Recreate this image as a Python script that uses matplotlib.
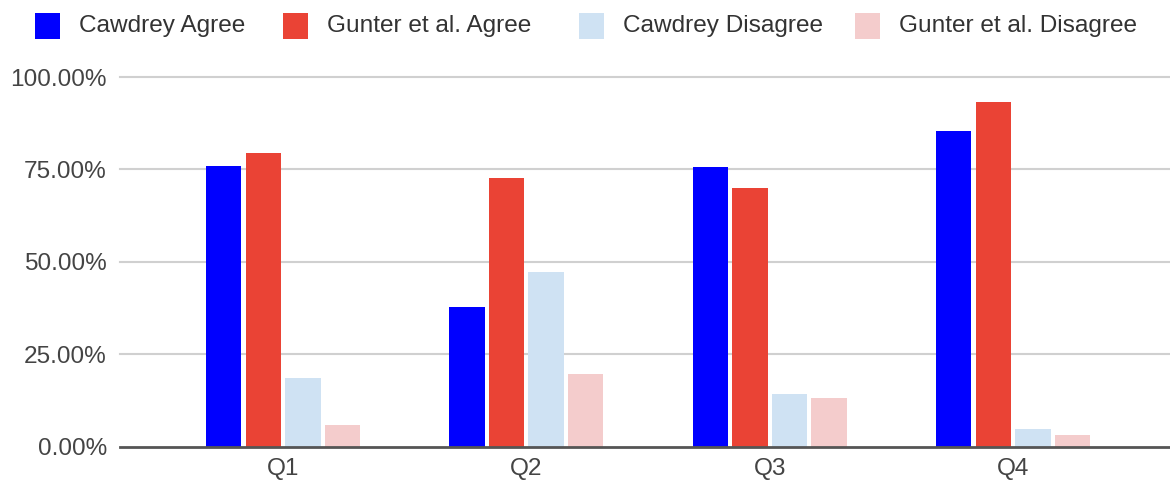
import matplotlib
matplotlib.use("Agg")
import matplotlib.pyplot as plt
from matplotlib.patches import Rectangle
import numpy as np

categories = ["Q1", "Q2", "Q3", "Q4"]
series_names = ["Cawdrey Agree", "Gunter et al. Agree", "Cawdrey Disagree", "Gunter et al. Disagree"]
cawdrey_agree = [0.759, 0.377, 0.757, 0.853]
gunter_agree = [0.795, 0.726, 0.700, 0.932]
cawdrey_disagree = [0.186, 0.471, 0.142, 0.047]
gunter_disagree = [0.058, 0.195, 0.132, 0.032]
yticks = [0.0, 0.25, 0.5, 0.75, 1.0]
ytick_labels = ["0.00%", "25.00%", "50.00%", "75.00%", "100.00%"]

colors = ["#0000ff", "#ea4335", "#cfe2f3", "#f4cccc"]
series = [cawdrey_agree, gunter_agree, cawdrey_disagree, gunter_disagree]

plt.rcParams['font.family'] = ['Liberation Sans', 'DejaVu Sans']

W, H = 1170, 482
fig = plt.figure(figsize=(W / 100, H / 100), dpi=100)
ax = fig.add_axes([120 / W, (H - 446.5) / H, (W - 120) / W, (446.5 - 77) / H])

x = np.arange(len(categories))
step = 0.1625
width = 0.146
for i, (vals, c) in enumerate(zip(series, colors)):
    ax.bar(x + (i - 1.5) * step, vals, width=width, color=c, zorder=3, linewidth=0)

ax.set_xlim(-0.670, 3.645)
ax.set_ylim(0, 1.0)
ax.set_yticks(yticks)
ax.set_yticklabels(ytick_labels)
ax.set_xticks(x)
ax.set_xticklabels(categories)
ax.tick_params(axis='both', length=0, labelsize=17.6, colors='#444444')
ax.tick_params(axis='y', pad=9.4)
ax.tick_params(axis='x', pad=8.5)
for t in ax.get_yticklabels() + ax.get_xticklabels():
    t.set_color('#444444')

for yv in yticks[1:]:
    ax.axhline(yv, color='#d0d0d0', linewidth=1.5, zorder=1, clip_on=False)
ax.axhline(0, color='#555555', linewidth=2, zorder=4, clip_on=False)

for s in ax.spines.values():
    s.set_visible(False)

# legend (manual placement in pixel coords)
sq_x = [35, 283, 579, 855]
txt_x = [79, 327, 623, 899]
ycen = 26
for name, c, sx, tx in zip(series_names, colors, sq_x, txt_x):
    fig.patches.append(Rectangle((sx / W, (H - ycen - 12.5) / H), 25 / W, 25 / H,
                                 transform=fig.transFigure, color=c, linewidth=0))
    fig.text(tx / W, (H - ycen) / H, name, ha='left', va='center',
             fontsize=17.6, color='#333333')

fig.savefig("out.png", dpi=100)
